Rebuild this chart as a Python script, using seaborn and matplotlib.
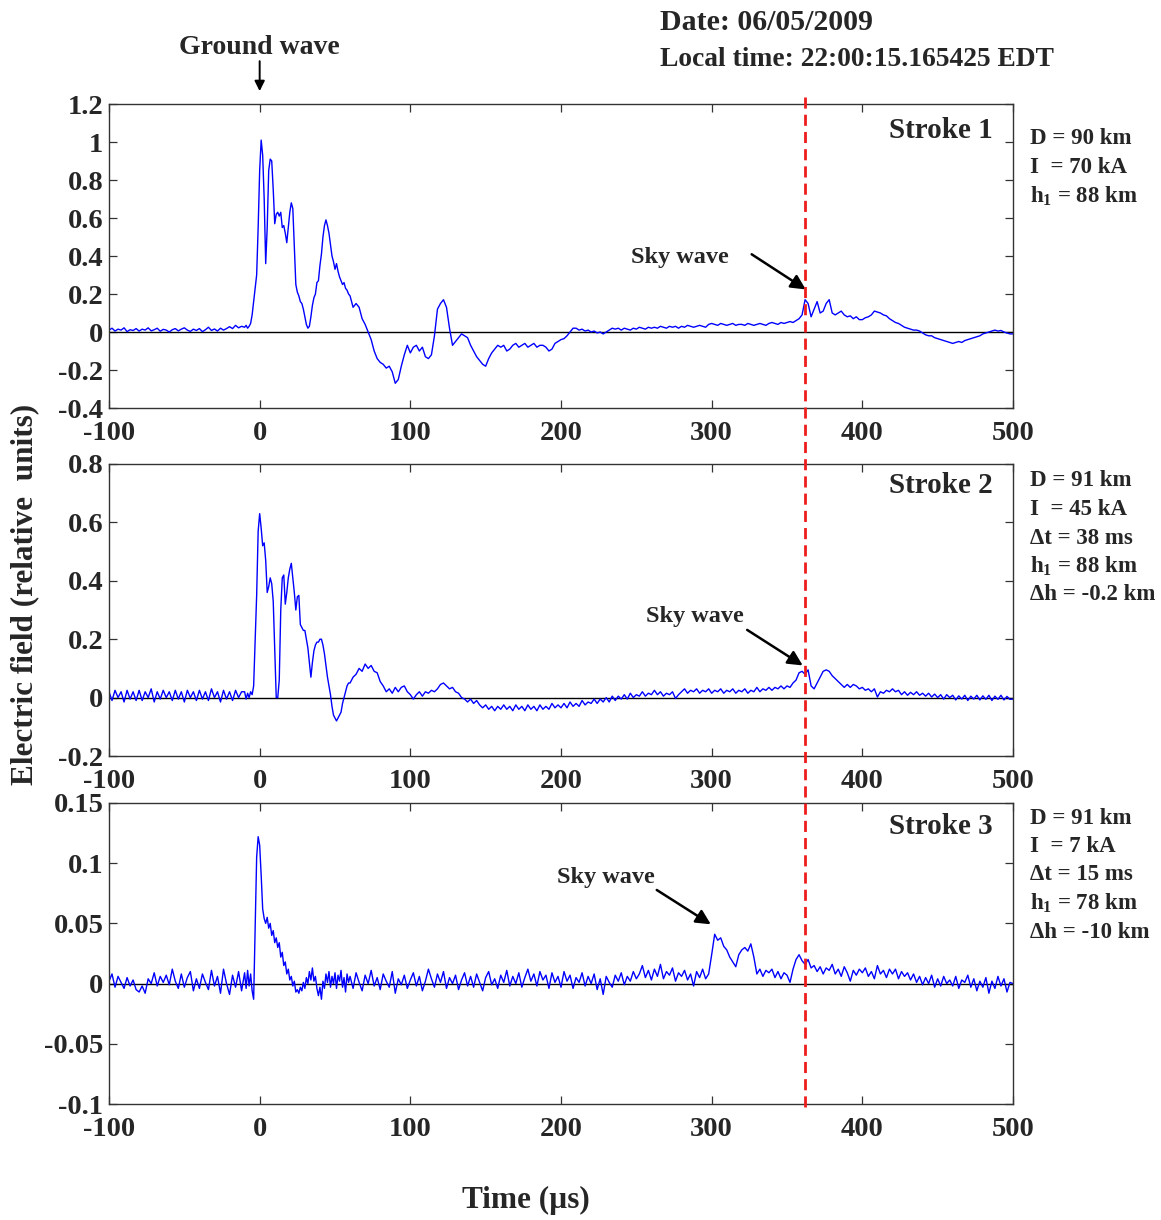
import numpy as np
import pandas as pd
import matplotlib
matplotlib.use("Agg")
import matplotlib.pyplot as plt
from matplotlib.lines import Line2D
from matplotlib import transforms
import seaborn as sns

# ---------------- data ----------------
# sample times: 2 us steps before -10 us, 1 us steps from -10 to 59 us, 2 us steps after
t_pre = np.arange(-100, -10, 2)
t_burst = np.arange(-10, 60, 1)
t_post = np.arange(60, 501, 2)

stroke1_pre = [0.010, 0.020, 0.005, 0.015, 0.010, 0.022, 0.002, 0.012, 0.008, 0.018,
               0.005, 0.015, 0.010, 0.022, 0.006, 0.012, 0.020, 0.004, 0.014, 0.010,
               0.000, 0.012, 0.018, 0.006, 0.015, 0.022, 0.010, 0.003, 0.015, 0.008,
               0.018, 0.002, 0.012, 0.025, 0.008, 0.016, 0.005, 0.020, 0.010, 0.018,
               0.028, 0.018, 0.035, 0.022, 0.030]
stroke1_burst = [0.025, 0.035, 0.020, 0.030, 0.045, 0.090, 0.160, 0.230, 0.300, 0.550,
                 0.850, 1.010, 0.930, 0.700, 0.360, 0.550, 0.850, 0.910, 0.900, 0.750,
                 0.570, 0.620, 0.630, 0.610, 0.630, 0.550, 0.560, 0.520, 0.470, 0.550,
                 0.630, 0.680, 0.650, 0.450, 0.250, 0.210, 0.190, 0.160, 0.150, 0.120,
                 0.080, 0.040, 0.020, 0.030, 0.080, 0.140, 0.180, 0.200, 0.260, 0.270,
                 0.350, 0.410, 0.500, 0.560, 0.590, 0.560, 0.520, 0.460, 0.400, 0.370,
                 0.330, 0.360, 0.320, 0.290, 0.270, 0.250, 0.260, 0.230, 0.220, 0.200]
stroke1_post = [0.190, 0.130, 0.150, 0.130, 0.070, 0.040, 0.000, -0.040, -0.100, -0.140,
                -0.160, -0.170, -0.190, -0.180, -0.210, -0.270, -0.250, -0.180, -0.120, -0.070,
                -0.110, -0.080, -0.070, -0.100, -0.080, -0.130, -0.140, -0.120, -0.020, 0.120,
                0.150, 0.170, 0.130, 0.020, -0.070, -0.050, -0.030, -0.010, -0.020, -0.030,
                -0.070, -0.100, -0.130, -0.150, -0.170, -0.180, -0.140, -0.110, -0.090, -0.070,
                -0.080, -0.070, -0.100, -0.090, -0.070, -0.060, -0.080, -0.070, -0.060, -0.080,
                -0.070, -0.060, -0.080, -0.070, -0.070, -0.080, -0.100, -0.090, -0.060, -0.050,
                -0.040, -0.035, -0.020, 0.000, 0.020, 0.020, 0.010, 0.015, 0.005, 0.010,
                0.000, 0.005, -0.005, 0.000, -0.010, 0.000, 0.010, 0.020, 0.015, 0.020,
                0.010, 0.020, 0.015, 0.010, 0.020, 0.015, 0.025, 0.020, 0.015, 0.025,
                0.020, 0.025, 0.020, 0.030, 0.025, 0.020, 0.030, 0.025, 0.030, 0.020,
                0.030, 0.025, 0.035, 0.030, 0.025, 0.030, 0.035, 0.030, 0.025, 0.040,
                0.045, 0.040, 0.035, 0.045, 0.040, 0.035, 0.040, 0.045, 0.035, 0.040,
                0.040, 0.035, 0.045, 0.040, 0.035, 0.040, 0.045, 0.040, 0.035, 0.045,
                0.050, 0.045, 0.040, 0.050, 0.045, 0.050, 0.055, 0.050, 0.060, 0.070,
                0.090, 0.170, 0.150, 0.080, 0.120, 0.160, 0.100, 0.110, 0.150, 0.170,
                0.100, 0.090, 0.100, 0.110, 0.090, 0.080, 0.085, 0.070, 0.080, 0.065,
                0.065, 0.075, 0.080, 0.090, 0.110, 0.105, 0.100, 0.090, 0.085, 0.070,
                0.060, 0.050, 0.045, 0.035, 0.025, 0.020, 0.015, 0.010, 0.010, 0.005,
                -0.005, -0.015, -0.020, -0.020, -0.030, -0.035, -0.040, -0.045, -0.050, -0.055,
                -0.060, -0.055, -0.050, -0.055, -0.045, -0.040, -0.035, -0.030, -0.025, -0.020,
                -0.010, -0.005, 0.000, 0.005, 0.010, 0.005, 0.008, 0.000, -0.005, -0.010,
                -0.010]

stroke2_pre = [0.020, -0.010, 0.025, 0.000, 0.020, -0.015, 0.025, -0.005, 0.020, -0.010,
               0.025, -0.010, 0.020, 0.000, 0.030, -0.015, 0.020, -0.005, 0.025, 0.000,
               0.020, -0.010, 0.025, -0.005, 0.020, -0.015, 0.025, 0.000, 0.020, -0.010,
               0.025, -0.005, 0.020, -0.010, 0.030, 0.000, 0.020, -0.015, 0.025, -0.005,
               0.020, -0.010, 0.025, 0.000, 0.020]
stroke2_burst = [0.020, -0.005, 0.015, 0.000, 0.020, 0.010, 0.040, 0.200, 0.350, 0.570,
                 0.630, 0.580, 0.520, 0.530, 0.470, 0.360, 0.380, 0.410, 0.390, 0.330,
                 0.170, 0.000, 0.000, 0.060, 0.300, 0.410, 0.420, 0.320, 0.360, 0.410,
                 0.440, 0.460, 0.410, 0.360, 0.300, 0.345, 0.350, 0.250, 0.240, 0.230,
                 0.230, 0.200, 0.170, 0.120, 0.070, 0.120, 0.160, 0.180, 0.190, 0.190,
                 0.200, 0.200, 0.180, 0.150, 0.110, 0.070, 0.040, 0.010, -0.030, -0.060,
                 -0.070, -0.080, -0.070, -0.060, -0.050, -0.020, 0.000, 0.020, 0.040, 0.050]
stroke2_post = [0.050, 0.070, 0.080, 0.100, 0.090, 0.115, 0.100, 0.110, 0.090, 0.085,
                0.055, 0.040, 0.020, 0.030, 0.015, 0.035, 0.020, 0.035, 0.040, 0.020,
                0.010, -0.005, 0.010, 0.020, 0.005, 0.020, 0.015, 0.025, 0.020, 0.030,
                0.045, 0.050, 0.040, 0.030, 0.035, 0.020, 0.015, 0.000, -0.005, -0.015,
                -0.005, -0.020, -0.010, -0.025, -0.035, -0.025, -0.040, -0.030, -0.045, -0.030,
                -0.040, -0.025, -0.040, -0.030, -0.045, -0.025, -0.040, -0.030, -0.045, -0.025,
                -0.040, -0.030, -0.045, -0.025, -0.040, -0.030, -0.040, -0.020, -0.035, -0.025,
                -0.035, -0.020, -0.035, -0.015, -0.030, -0.020, -0.030, -0.010, -0.025, -0.015,
                -0.020, -0.005, -0.020, -0.005, -0.015, 0.000, -0.015, 0.005, -0.010, 0.005,
                -0.005, 0.010, -0.005, 0.015, 0.000, 0.010, 0.005, 0.020, 0.005, 0.015,
                0.010, 0.025, 0.010, 0.020, 0.005, 0.015, 0.010, 0.020, -0.003, 0.010,
                0.020, 0.030, 0.015, 0.025, 0.020, 0.030, 0.015, 0.025, 0.020, 0.030,
                0.015, 0.025, 0.020, 0.030, 0.015, 0.025, 0.020, 0.030, 0.015, 0.025,
                0.020, 0.030, 0.015, 0.025, 0.020, 0.035, 0.020, 0.030, 0.025, 0.035,
                0.025, 0.035, 0.030, 0.040, 0.030, 0.040, 0.035, 0.050, 0.060, 0.085,
                0.090, 0.080, 0.095, 0.040, 0.030, 0.050, 0.070, 0.090, 0.095, 0.090,
                0.075, 0.065, 0.055, 0.045, 0.035, 0.045, 0.035, 0.045, 0.040, 0.030,
                0.035, 0.025, 0.030, 0.020, 0.030, 0.002, 0.020, 0.015, 0.025, 0.020,
                0.030, 0.020, 0.025, 0.010, 0.020, 0.008, 0.018, 0.010, 0.020, 0.008,
                0.015, 0.005, 0.015, 0.002, 0.012, 0.000, 0.010, -0.005, 0.010, 0.000,
                0.008, -0.008, 0.006, -0.005, 0.008, -0.010, 0.005, -0.005, 0.008, -0.008,
                0.006, -0.006, 0.008, -0.010, 0.005, -0.006, 0.008, -0.008, 0.004, -0.006,
                -0.005]

stroke3_pre = [0.002, 0.008, -0.003, 0.006, 0.001, -0.004, 0.005, -0.002, 0.003, -0.005,
               -0.007, -0.002, -0.008, 0.004, 0.000, 0.009, -0.002, 0.006, 0.001, 0.007,
               -0.001, 0.012, 0.002, -0.004, 0.008, -0.003, 0.005, 0.010, -0.006, 0.004,
               -0.004, 0.008, 0.001, -0.005, 0.011, -0.002, 0.006, -0.008, 0.012, 0.000,
               -0.009, 0.007, -0.003, 0.010, -0.006]
stroke3_burst = [0.009, -0.004, 0.011, -0.002, 0.008, -0.006, -0.013, 0.045, 0.105, 0.122,
                 0.115, 0.090, 0.062, 0.054, 0.050, 0.055, 0.046, 0.050, 0.040, 0.044,
                 0.034, 0.038, 0.030, 0.034, 0.022, 0.026, 0.015, 0.018, 0.008, 0.012,
                 0.003, 0.006, -0.002, 0.002, -0.007, -0.005, -0.008, -0.003, -0.006, 0.001,
                 -0.004, 0.005, 0.000, 0.010, 0.003, 0.013, 0.002, 0.006, -0.004, -0.010,
                 -0.003, -0.013, 0.002, -0.004, 0.008, 0.001, 0.010, -0.003, 0.006, 0.000,
                 0.009, -0.004, 0.007, 0.002, 0.011, -0.003, 0.005, -0.007, 0.008, 0.001]
stroke3_post = [0.006, -0.004, 0.009, 0.001, -0.006, 0.007, 0.000, 0.011, -0.002, 0.005,
                -0.005, 0.008, 0.002, -0.003, 0.010, -0.008, 0.004, -0.001, 0.007, -0.004,
                0.003, 0.009, -0.002, 0.006, -0.006, 0.002, 0.012, 0.004, -0.003, 0.008,
                0.001, 0.010, -0.004, 0.005, 0.000, 0.007, -0.005, 0.003, 0.009, -0.002,
                0.006, -0.003, 0.008, 0.001, -0.006, 0.005, 0.010, -0.001, 0.004, -0.004,
                0.007, 0.001, 0.011, -0.002, 0.006, 0.000, 0.009, -0.003, 0.005, 0.012,
                0.002, 0.008, -0.002, 0.010, 0.003, 0.007, -0.004, 0.009, 0.001, 0.006,
                -0.003, 0.010, 0.002, 0.007, -0.004, 0.005, 0.001, 0.009, -0.002, 0.006,
                0.000, 0.008, -0.005, 0.004, -0.009, 0.006, 0.001, -0.003, 0.007, 0.002,
                0.009, -0.001, 0.006, 0.002, 0.010, 0.004, 0.008, 0.015, 0.005, 0.011,
                0.003, 0.012, 0.006, 0.016, 0.004, 0.010, 0.007, 0.013, 0.002, 0.009,
                0.006, 0.011, 0.003, 0.008, -0.002, 0.010, 0.005, 0.012, 0.004, 0.008,
                0.024, 0.041, 0.036, 0.038, 0.031, 0.028, 0.022, 0.018, 0.014, 0.024,
                0.028, 0.030, 0.027, 0.033, 0.022, 0.008, 0.012, 0.006, 0.011, 0.009,
                0.012, 0.005, 0.010, 0.004, 0.009, 0.007, 0.001, 0.012, 0.020, 0.024,
                0.019, 0.016, 0.020, 0.013, 0.015, 0.010, 0.014, 0.008, 0.013, 0.011,
                0.016, 0.008, 0.012, 0.006, 0.014, 0.009, 0.002, 0.011, 0.007, 0.012,
                0.009, 0.013, 0.006, 0.010, 0.004, 0.015, 0.008, 0.011, 0.005, 0.012,
                0.008, 0.012, 0.004, 0.010, 0.006, 0.009, 0.003, 0.008, 0.001, 0.006,
                -0.001, 0.005, 0.000, 0.007, -0.003, 0.004, -0.002, 0.006, 0.000, 0.003,
                -0.002, 0.006, -0.004, 0.003, 0.001, 0.007, -0.003, 0.004, -0.006, 0.002,
                -0.003, 0.005, -0.008, 0.002, -0.004, 0.006, -0.002, 0.004, -0.007, 0.001,
                0.000]

stroke_names = ["Stroke 1", "Stroke 2", "Stroke 3"]
stroke_info = [
    ["D = 90 km", "I  = 70 kA", r"h$_\mathbf{1}$ = 88 km"],
    ["D = 91 km", "I  = 45 kA", "\u0394t = 38 ms", r"h$_\mathbf{1}$ = 88 km", "\u0394h = -0.2 km"],
    ["D = 91 km", "I  = 7 kA", "\u0394t = 15 ms", r"h$_\mathbf{1}$ = 78 km", "\u0394h = -10 km"],
]
xticks = [-100, 0, 100, 200, 300, 400, 500]
xtick_labels = ["-100", "0", "100", "200", "300", "400", "500"]
yticks = [
    [-0.4, -0.2, 0, 0.2, 0.4, 0.6, 0.8, 1.0, 1.2],
    [-0.2, 0, 0.2, 0.4, 0.6, 0.8],
    [-0.1, -0.05, 0, 0.05, 0.1, 0.15],
]
ytick_labels = [
    ["-0.4", "-0.2", "0", "0.2", "0.4", "0.6", "0.8", "1", "1.2"],
    ["-0.2", "0", "0.2", "0.4", "0.6", "0.8"],
    ["-0.1", "-0.05", "0", "0.05", "0.1", "0.15"],
]
ylims = [(-0.4, 1.2), (-0.2, 0.8), (-0.1, 0.15)]
ref_time = 362          # dashed red reference line (us)
ground_wave_time = 0
# sky-wave annotations: (text x, text y, arrow tip x, arrow tip y, arrow tail x, arrow tail y)
sky_wave = [
    (279, 0.39, 364, 0.216, 325, 0.417),
    (289, 0.277, 362, 0.105, 322, 0.237),
    (230, 0.088, 301, 0.048, 262, 0.079),
]

# ---------------- styling ----------------
sns.set_style("ticks")
plt.rcParams["font.family"] = ["Liberation Serif", "DejaVu Serif"]
plt.rcParams["font.weight"] = "bold"
plt.rcParams["axes.unicode_minus"] = False
plt.rcParams["mathtext.fontset"] = "custom"
plt.rcParams["mathtext.rm"] = "Liberation Serif:bold"
plt.rcParams["mathtext.it"] = "Liberation Serif:bold"
plt.rcParams["mathtext.bf"] = "Liberation Serif:bold"

W, H = 1161, 1220
fig = plt.figure(figsize=(W / 100, H / 100), dpi=100)

# axes boxes in pixels: (left, top, right, bottom)
boxes = [(109, 104, 1013, 408), (109, 464, 1013, 756), (109, 803, 1013, 1104)]
axes = []
for (l, t, r, b) in boxes:
    axes.append(fig.add_axes([l / W, 1 - b / H, (r - l) / W, (b - t) / H]))

series = [
    (stroke1_pre, stroke1_burst, stroke1_post),
    (stroke2_pre, stroke2_burst, stroke2_post),
    (stroke3_pre, stroke3_burst, stroke3_post),
]
stroke_pos = [0.914, 0.928, 0.921]
info_top_px = [139, 481, 818]
info_step_px = 28.5

for i, ax in enumerate(axes):
    pre, burst, post = series[i]
    time = np.concatenate([t_pre, t_burst, t_post])
    vals = np.concatenate([pre, burst, post])
    df = pd.DataFrame({"time": time, "E": vals})
    sns.lineplot(data=df, x="time", y="E", ax=ax, color="#0000ff",
                 linewidth=1.0, estimator=None, sort=False)
    ax.axhline(0, color="black", linewidth=1.0, zorder=1)
    ax.set_xlim(-100, 500)
    ax.set_ylim(*ylims[i])
    ax.set_xticks(xticks)
    ax.set_xticklabels(xtick_labels)
    ax.set_yticks(yticks[i])
    ax.set_yticklabels(ytick_labels[i])
    ax.set_xlabel("")
    ax.set_ylabel("")
    ax.tick_params(direction="in", length=6, width=0.9, top=True, right=True,
                   labelsize=20.5, color="#333333")
    ax.tick_params(axis="x", pad=9)
    ax.tick_params(axis="y", pad=4)
    for lab in ax.get_xticklabels() + ax.get_yticklabels():
        lab.set_fontweight("bold")
    for sp in ax.spines.values():
        sp.set_visible(True)
        sp.set_color("#333333")
        sp.set_linewidth(1.0)
    ax.text(0.978, stroke_pos[i], stroke_names[i], transform=ax.transAxes,
            ha="right", va="center", fontsize=21, fontweight="bold")
    for k, line in enumerate(stroke_info[i]):
        fig.text(1030 / W, 1 - (info_top_px[i] + k * info_step_px) / H, line,
                 ha="left", va="center", fontsize=16.5, fontweight="bold")
    tx, ty, hx, hy, sx, sy = sky_wave[i]
    ax.text(tx, ty, "Sky wave", ha="center", va="center", fontsize=17.5,
            fontweight="bold")
    ax.annotate("", xy=(hx, hy), xytext=(sx, sy),
                arrowprops=dict(arrowstyle="-|>", color="black", lw=1.8,
                                mutation_scale=22))

# ground wave annotation
axes[0].annotate("", xy=(ground_wave_time, 1.253), xytext=(ground_wave_time, 1.44),
                 arrowprops=dict(arrowstyle="-|>", color="black", lw=1.4,
                                 mutation_scale=15),
                 annotation_clip=False)
axes[0].text(ground_wave_time, 1.5, "Ground wave", ha="center", va="center",
             fontsize=20, fontweight="bold", clip_on=False)

# red dashed reference line across all panels (x in data units, y in figure units)
blend = transforms.blended_transform_factory(axes[0].transData, fig.transFigure)
ref_line = Line2D([ref_time, ref_time], [1 - 97 / H, 1 - 1113 / H], transform=blend,
                  color="#ee1c1c", linewidth=2.0, linestyle=(0, (4, 2.2)), zorder=10)
fig.add_artist(ref_line)

# header text
fig.text(660 / W, 1 - 22 / H, "Date: 06/05/2009", ha="left", va="center",
         fontsize=21.5, fontweight="bold")
fig.text(660 / W, 1 - 60 / H, "Local time: 22:00:15.165425 EDT", ha="left",
         va="center", fontsize=19.8, fontweight="bold")

# axis labels
fig.text(25 / W, 1 - 594 / H, "Electric field (relative  units)", rotation=90,
         ha="center", va="center", fontsize=22.5, fontweight="bold")
fig.text(526 / W, 1 - 1200 / H, "Time (\u00b5s)", ha="center", va="center",
         fontsize=22.5, fontweight="bold")

fig.savefig("out.png", dpi=100)
